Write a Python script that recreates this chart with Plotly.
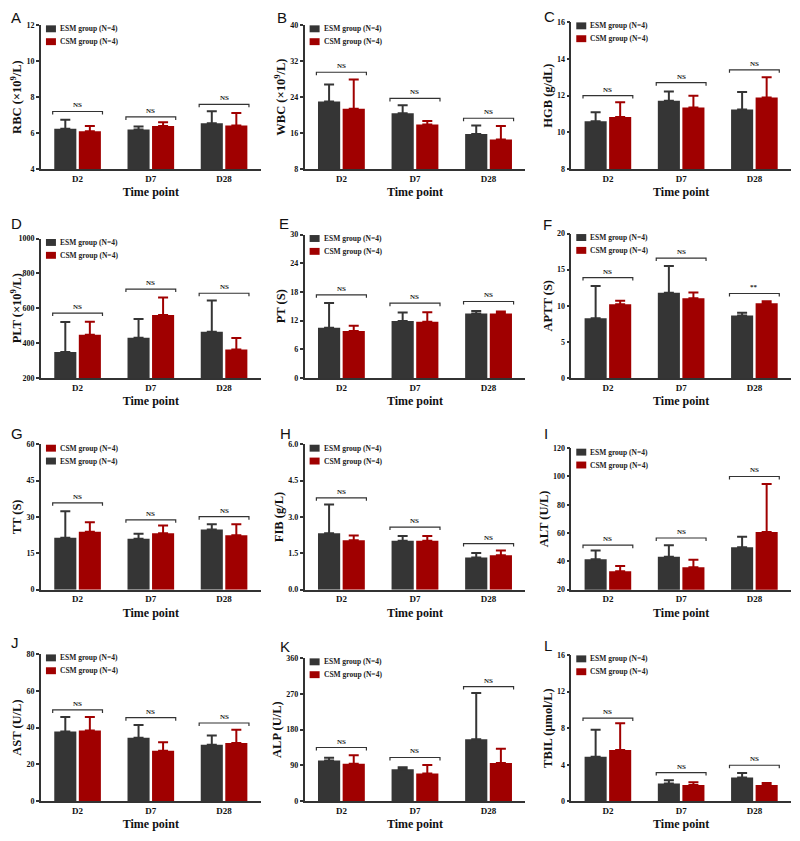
import plotly.graph_objects as go

# ---------------- data ----------------
time_points = ["D2", "D7", "D28"]
group_names = ["ESM group (N=4)", "CSM group (N=4)"]
panel_letters = ["A", "B", "C", "D", "E", "F", "G", "H", "I", "J", "K", "L"]
y_titles = ["RBC (×10<sup>9</sup>/L)", "WBC (×10<sup>9</sup>/L)", "HGB (g/dL)",
            "PLT (×10<sup>9</sup>/L)", "PT (S)", "APTT (S)",
            "TT (S)", "FIB (g/L)", "ALT (U/L)",
            "AST (U/L)", "ALP (U/L)", "TBIL (μmol/L)"]
y_ranges = [[4, 12], [8, 40], [8, 16], [200, 1000], [0, 30], [0, 20],
            [0, 60], [0, 6], [20, 120], [0, 80], [0, 360], [0, 16]]
y_dticks = [2, 8, 2, 200, 6, 5, 15, 1.5, 20, 20, 90, 4]

rbc_esm = [6.25, 6.2, 6.55];   rbc_esm_sd = [0.5, 0.17, 0.67]
rbc_csm = [6.1, 6.4, 6.42];    rbc_csm_sd = [0.3, 0.2, 0.7]
rbc_sig = [7.2, 6.9, 7.6]

wbc_esm = [23.0, 20.4, 15.8];  wbc_esm_sd = [3.8, 1.8, 1.9]
wbc_csm = [21.4, 17.9, 14.6];  wbc_csm_sd = [6.5, 0.8, 3.0]
wbc_sig = [29.5, 23.7, 19.3]

hgb_esm = [10.6, 11.72, 11.24]; hgb_esm_sd = [0.5, 0.5, 0.95]
hgb_csm = [10.84, 11.35, 11.9]; hgb_csm_sd = [0.8, 0.64, 1.1]
hgb_sig = [12.0, 12.7, 13.4]

plt_esm = [349, 431, 465];     plt_esm_sd = [172, 107, 179]
plt_csm = [448, 561, 363];     plt_csm_sd = [75, 100, 66]
plt_sig = [572, 710, 686]

pt_esm = [10.5, 11.9, 13.5];   pt_esm_sd = [5.2, 1.8, 0.5]
pt_csm = [9.84, 11.76, 13.5];  pt_csm_sd = [1.1, 2.0, 0.4]
pt_sig = [17.4, 15.65, 16.0]

aptt_esm = [8.27, 11.8, 8.64]; aptt_esm_sd = [4.45, 3.7, 0.4]
aptt_csm = [10.2, 11.05, 10.36]; aptt_csm_sd = [0.5, 0.8, 0.25]
aptt_sig = [13.9, 16.6, 11.7]

tt_esm = [21.4, 21.0, 24.8];   tt_esm_sd = [10.9, 2.1, 2.2]
tt_csm = [23.9, 23.3, 22.4];   tt_csm_sd = [3.9, 3.2, 4.6]
tt_sig = [35.8, 28.8, 30.1]

fib_esm = [2.33, 2.02, 1.33];  fib_esm_sd = [1.18, 0.19, 0.18]
fib_csm = [2.04, 2.02, 1.42];  fib_csm_sd = [0.19, 0.19, 0.19]
fib_sig = [3.79, 2.58, 1.9]

alt_esm = [41.4, 43.3, 50.0];  alt_esm_sd = [6.3, 8.1, 7.3]
alt_csm = [33.0, 35.8, 60.8];  alt_csm_sd = [3.7, 5.4, 33.9]
alt_sig = [51.4, 56.5, 100.0]

ast_esm = [37.9, 34.5, 30.7];  ast_esm_sd = [7.8, 6.9, 5.0]
ast_csm = [38.4, 27.5, 31.6];  ast_csm_sd = [7.3, 4.5, 7.3]
ast_sig = [49.6, 45.4, 42.5]

alp_esm = [102.6, 80.3, 155.6]; alp_esm_sd = [6.6, 5.0, 116.0]
alp_csm = [94.4, 69.5, 96.0];   alp_csm_sd = [21.5, 21.5, 35.6]
alp_sig = [135, 110, 288]

tbil_esm = [4.87, 1.95, 2.6];  tbil_esm_sd = [2.96, 0.36, 0.5]
tbil_csm = [5.6, 1.77, 1.77];  tbil_csm_sd = [2.92, 0.32, 0.22]
tbil_sig = [9.1, 3.14, 3.94]

sig_labels = [["NS"] * 3] * 5 + [["NS", "NS", "**"]] + [["NS"] * 3] * 6

esm_means = [rbc_esm, wbc_esm, hgb_esm, plt_esm, pt_esm, aptt_esm,
             tt_esm, fib_esm, alt_esm, ast_esm, alp_esm, tbil_esm]
esm_sds = [rbc_esm_sd, wbc_esm_sd, hgb_esm_sd, plt_esm_sd, pt_esm_sd, aptt_esm_sd,
           tt_esm_sd, fib_esm_sd, alt_esm_sd, ast_esm_sd, alp_esm_sd, tbil_esm_sd]
csm_means = [rbc_csm, wbc_csm, hgb_csm, plt_csm, pt_csm, aptt_csm,
             tt_csm, fib_csm, alt_csm, ast_csm, alp_csm, tbil_csm]
csm_sds = [rbc_csm_sd, wbc_csm_sd, hgb_csm_sd, plt_csm_sd, pt_csm_sd, aptt_csm_sd,
           tt_csm_sd, fib_csm_sd, alt_csm_sd, ast_csm_sd, alp_csm_sd, tbil_csm_sd]
sig_levels = [rbc_sig, wbc_sig, hgb_sig, plt_sig, pt_sig, aptt_sig,
              tt_sig, fib_sig, alt_sig, ast_sig, alp_sig, tbil_sig]

# ---------------- layout geometry (page pixels) ----------------
PAGE_W, PAGE_H, BODY = 800, 841, 8
W, H = PAGE_W - 2 * BODY, PAGE_H - 2 * BODY
col_x = [(40, 260), (304, 525), (571, 791)]
row_bottom = [167, 378, 592, 806]
panel_top = [21, 21, 18, 237, 233, 232, 445, 445, 449, 657, 661, 658]
# left edge / vertical centre of each panel letter
letter_pos = [(8, 14), (274, 14), (542, 13),
              (8, 222), (276, 222), (541, 223),
              (8, 434), (277, 434), (542, 434),
              (8, 645), (277, 649), (542, 648)]

ESM_COLOR = "#353535"
CSM_COLOR = "#a00000"
AXIS_COLOR = "#333333"
SERIF = "Liberation Serif"
SANS = "Liberation Sans"


def fx(px):
    return min(1.0, max(0.0, (px - BODY) / W))


def fy(py):
    return min(1.0, max(0.0, 1 - (py - BODY) / H))


fig = go.Figure()
shapes = []
annotations = []
layout_extra = {}

for k in range(12):
    n = k + 1
    r, c = divmod(k, 3)
    xref = "x" if n == 1 else f"x{n}"
    yref = "y" if n == 1 else f"y{n}"
    x0, x1 = col_x[c]
    top, bottom = panel_top[k], row_bottom[r]

    series = [(group_names[0], esm_means[k], esm_sds[k], ESM_COLOR),
              (group_names[1], csm_means[k], csm_sds[k], CSM_COLOR)]
    for name, means, sds, color in series:
        fig.add_trace(go.Bar(
            x=[0, 1, 2], y=means, name=name,
            marker=dict(color=color, line=dict(width=0)),
            error_y=dict(type="data", array=sds, arrayminus=[0, 0, 0], symmetric=False,
                         color=color, thickness=2, width=5),
            xaxis=xref, yaxis=yref, showlegend=False,
            hovertemplate=name + ": %{y}<extra></extra>"))

    # in-plot legend (key boxes + labels); panel G lists CSM first
    legend_order = series[::-1] if k == 6 else series
    for j, (name, _, _, color) in enumerate(legend_order):
        cy = top + 4 + 13 * j
        shapes.append(dict(type="rect", xref="paper", yref="paper",
                           x0=fx(x0 + 5), x1=fx(x0 + 15), y0=fy(cy + 3.5), y1=fy(cy - 3.5),
                           fillcolor=color, line=dict(width=0)))
        annotations.append(dict(
            x=fx(x0 + 17), y=fy(cy), xref="paper", yref="paper", text=name,
            showarrow=False, xanchor="left", yanchor="middle",
            font=dict(family=SERIF, size=7.5, color="#222", weight="bold")))

    layout_extra["xaxis" if n == 1 else f"xaxis{n}"] = dict(
        domain=[fx(x0), fx(x1)], anchor=yref, range=[-0.5, 2.5],
        tickmode="array", tickvals=[0, 1, 2], ticktext=time_points,
        tickfont=dict(family=SERIF, size=9, color="#111", weight="bold"),
        showline=True, linecolor=AXIS_COLOR, linewidth=1.5, ticks="",
        showgrid=False, zeroline=False, fixedrange=True,
        title=dict(text="Time point", standoff=5,
                   font=dict(family=SERIF, size=12, color="#111", weight="bold")))
    lo, hi = y_ranges[k]
    layout_extra["yaxis" if n == 1 else f"yaxis{n}"] = dict(
        domain=[fy(bottom), fy(top)], anchor=xref, range=[lo, hi],
        tick0=lo, dtick=y_dticks[k], tickformat=".1f" if k == 7 else "d",
        tickfont=dict(family=SERIF, size=8, color="#111", weight="bold"),
        showline=True, linecolor=AXIS_COLOR, linewidth=1.5,
        ticks="outside", ticklen=3, tickwidth=1.5, tickcolor=AXIS_COLOR,
        showgrid=False, zeroline=False, fixedrange=True,
        title=dict(text=y_titles[k], standoff=2,
                   font=dict(family=SERIF, size=12.5, color="#111", weight="bold")))

    for i in range(3):
        lvl = sig_levels[k][i]
        shapes.append(dict(
            type="path", xref=xref, yref=yref, ysizemode="pixel", yanchor=lvl,
            path=f"M{i - 0.34},-3 L{i - 0.34},0 L{i + 0.34},0 L{i + 0.34},-3",
            line=dict(color=AXIS_COLOR, width=1.2)))
        annotations.append(dict(
            x=i, y=lvl, xref=xref, yref=yref, text=sig_labels[k][i], showarrow=False,
            yanchor="bottom", yshift=0,
            font=dict(family=SERIF, size=7, color="#222", weight="bold")))

    lx, ly = letter_pos[k]
    annotations.append(dict(
        x=fx(lx), y=fy(ly), xref="paper", yref="paper", text=panel_letters[k],
        showarrow=False, xanchor="left", yanchor="middle",
        font=dict(family=SANS, size=15, color="#111")))

fig.update_layout(
    width=W, height=H, autosize=False,
    margin=dict(l=0, r=0, t=0, b=0),
    paper_bgcolor="white", plot_bgcolor="white",
    barmode="group", bargap=0.33, bargroupgap=0.1,
    showlegend=False,
    shapes=shapes, annotations=annotations,
    **layout_extra)

fig.write_html("out.html")
